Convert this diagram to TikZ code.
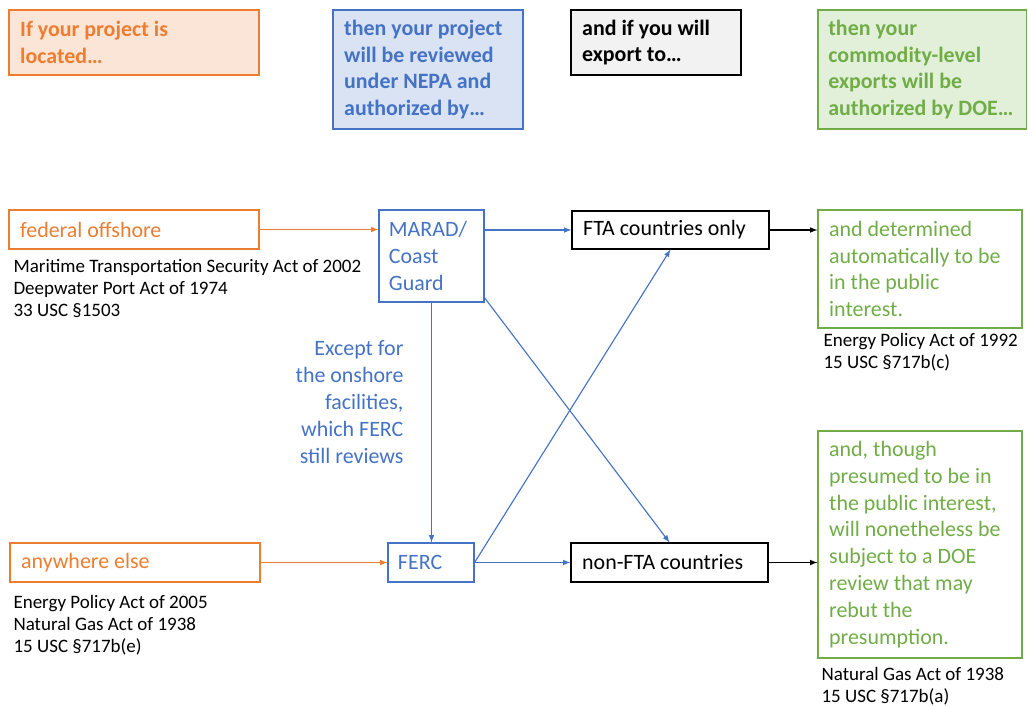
\documentclass[tikz,border=0pt]{standalone}
\usepackage{fontspec}
\setmainfont{Carlito}
\usetikzlibrary{positioning}

\definecolor{ppOrange}{HTML}{ED7D31}
\definecolor{ppBlue}{HTML}{4472C4}
\definecolor{ppGreen}{HTML}{70AD47}
\definecolor{ppOrangeFill}{HTML}{FBE5D6}
\definecolor{ppBlueFill}{HTML}{DAE3F3}
\definecolor{ppGreenFill}{HTML}{E2F0D9}
\definecolor{ppGrayFill}{HTML}{F2F2F2}

\begin{document}
\begin{tikzpicture}[x=0.025cm, y=-0.025cm, line width=0.8pt,
  bigtxt/.style={font=\fontsize{15.6}{19.1}\selectfont},
  hdrtxt/.style={font=\bfseries\fontsize{15.6}{19.1}\selectfont},
  citetxt/.style={font=\fontsize{13.5}{15.6}\selectfont, align=flush left, inner sep=0pt, anchor=north west},
  box/.style={draw, align=flush left, inner xsep=0.28cm, inner ysep=0pt}]
\useasboundingbox (0,0) rectangle (1028,706);

% column headings
\node[box, hdrtxt, draw=ppOrange, fill=ppOrangeFill, text=ppOrange, text width=5.69cm, minimum height=1.625cm] (hdrLoc) at (134, 42.5) {If your project is located\ldots};
\node[box, hdrtxt, draw=ppBlue, fill=ppBlueFill, text=ppBlue, text width=4.19cm, minimum height=2.975cm] (hdrAuth) at (428, 69.5) {then your project will be reviewed under NEPA and authorized by\ldots};
\node[box, hdrtxt, draw=black, fill=ppGrayFill, text=black, text width=3.69cm, minimum height=1.625cm] (hdrDest) at (656, 42.5) {and if you will export to\ldots};
\node[box, hdrtxt, draw=ppGreen, fill=ppGreenFill, text=ppGreen, text width=4.7cm, inner xsep=0.26cm, minimum height=2.975cm] (hdrDoe) at (922.4, 69.5) {then your commodity-level exports will be authorized by DOE\ldots};

% locations
\node[box, bigtxt, draw=ppOrange, text=ppOrange, text width=5.69cm, minimum height=0.975cm] (fedoff) at (134, 229.5) {federal offshore};
\node[citetxt] (citeFed) at (13, 259) {Maritime Transportation Security Act of 2002\\Deepwater Port Act of 1974\\33 USC §1503};
\node[box, bigtxt, draw=ppOrange, text=ppOrange, text width=5.69cm, minimum height=0.975cm] (anyw) at (135, 562.5) {anywhere else};
\node[citetxt] (citeAny) at (13, 595) {Energy Policy Act of 2005\\Natural Gas Act of 1938\\15 USC §717b(e)};

% agencies
\node[box, bigtxt, draw=ppBlue, text=ppBlue, text width=2.125cm, inner xsep=0.25cm, minimum height=2.3cm] (marad) at (431.5, 256) {MARAD/\\Coast\\Guard};
\node[box, bigtxt, draw=ppBlue, text=ppBlue, text width=1.65cm, inner xsep=0.25cm, minimum height=0.975cm] (ferc) at (431, 562.5) {FERC};
\node[bigtxt, text=ppBlue, align=right, anchor=east, inner sep=0pt] (except) at (404, 402) {Except for\\the onshore\\facilities,\\which FERC\\still reviews};

% destinations
\node[box, bigtxt, draw=black, text width=4.365cm, minimum height=0.95cm] (fta) at (670.5, 230) {FTA countries only};
\node[box, bigtxt, draw=black, text width=4.365cm, minimum height=0.975cm] (nonfta) at (669.5, 562.5) {non-FTA countries};

% DOE outcomes
\node[box, bigtxt, draw=ppGreen, text=ppGreen, text width=4.54cm, minimum height=2.95cm] (auto) at (920, 269) {and determined automatically to be in the public interest.};
\node[citetxt] (citeAuto) at (823, 333) {Energy Policy Act of 1992\\15 USC §717b(c)};
\node[box, bigtxt, draw=ppGreen, text=ppGreen, text width=4.54cm, minimum height=5.675cm] (review) at (920, 544.5) {and, though presumed to be in the public interest, will nonetheless be subject to a DOE review that may rebut the presumption.};
\node[citetxt] (citeRev) at (821, 667) {Natural Gas Act of 1938\\15 USC §717b(a)};

% connectors
\draw [-latex, ppOrange] (fedoff.east) -- (fedoff.east -| marad.west);
\draw [-latex, ppOrange] (anyw.east) -- (ferc.west);
\draw [-latex, ppBlue] (fta.west -| marad.east) -- (fta.west);
\draw [-latex, ppBlue] (marad.south) -- (marad.south |- ferc.north);
\draw [-latex, ppBlue] ([yshift=0.12cm]marad.south east) -- (nonfta.north);
\draw [-latex, ppBlue] (ferc.east) -- (fta.south);
\draw [-latex, ppBlue] (ferc.east) -- (nonfta.west);
\draw [-latex] (fta.east) -- (fta.east -| auto.west);
\draw [-latex] (nonfta.east) -- (nonfta.east -| review.west);
\end{tikzpicture}
\end{document}
